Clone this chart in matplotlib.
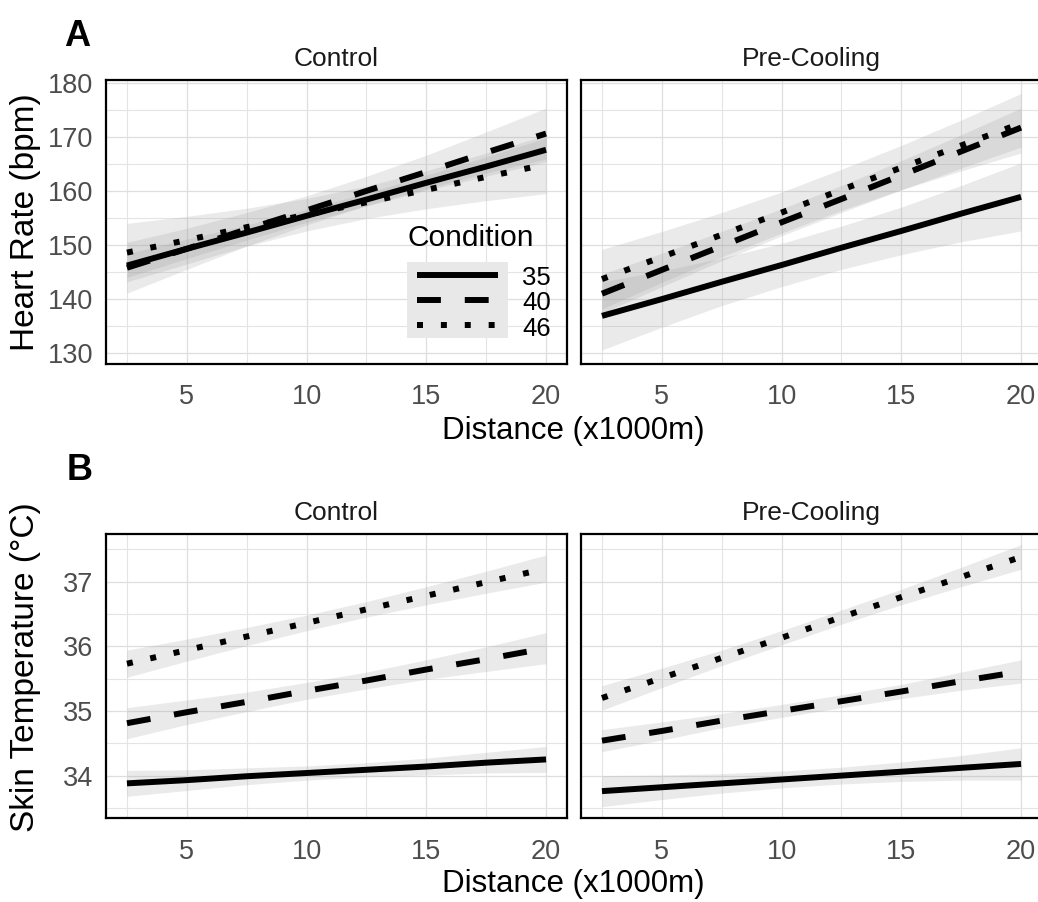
import numpy as np
import matplotlib.pyplot as plt
from matplotlib.lines import Line2D
from matplotlib.patches import Rectangle

plt.rcParams['font.family'] = ['Liberation Sans', 'DejaVu Sans']

# distance points (x1000 m) where the fitted lines and bands are read
distance = [2.5, 5, 7.5, 10, 12.5, 15, 17.5, 20]
conditions = ['35', '40', '46']
groups = ['Control', 'Pre-Cooling']

# heart rate fits (bpm), one row per condition 35 / 40 / 46
hr_control_fit = [
    [146.2, 149.3, 152.3, 155.4, 158.4, 161.5, 164.5, 167.6],
    [145.8, 149.3, 152.9, 156.4, 160.0, 163.5, 167.1, 170.6],
    [148.6, 150.9, 153.3, 155.6, 157.9, 160.2, 162.6, 164.9],
]
hr_control_ci = [
    [2.2, 1.8, 1.4, 1.2, 1.2, 1.4, 1.8, 2.2],
    [4.7, 3.8, 3.1, 2.7, 2.7, 3.1, 3.8, 4.7],
    [5.4, 4.4, 3.5, 3.0, 3.0, 3.5, 4.4, 5.4],
]
hr_precool_fit = [
    [136.9, 140.0, 143.2, 146.3, 149.5, 152.6, 155.8, 158.9],
    [141.0, 145.4, 149.8, 154.2, 158.5, 162.9, 167.3, 171.7],
    [143.7, 147.8, 151.9, 156.0, 160.2, 164.3, 168.4, 172.5],
]
hr_precool_ci = [
    [6.3, 5.2, 4.4, 4.0, 4.0, 4.4, 5.2, 6.3],
    [3.6, 3.1, 2.7, 2.5, 2.5, 2.7, 3.1, 3.6],
    [5.5, 4.7, 4.1, 3.8, 3.8, 4.1, 4.7, 5.5],
]

# skin temperature fits (deg C)
tsk_control_fit = [
    [33.88, 33.93, 33.99, 34.04, 34.09, 34.14, 34.20, 34.25],
    [34.81, 34.98, 35.14, 35.31, 35.47, 35.64, 35.80, 35.97],
    [35.73, 35.94, 36.15, 36.36, 36.57, 36.78, 36.99, 37.20],
]
tsk_control_ci = [
    [0.20, 0.16, 0.13, 0.11, 0.11, 0.13, 0.16, 0.20],
    [0.24, 0.19, 0.15, 0.13, 0.13, 0.15, 0.19, 0.24],
    [0.21, 0.17, 0.14, 0.12, 0.12, 0.14, 0.17, 0.21],
]
tsk_precool_fit = [
    [33.76, 33.82, 33.88, 33.94, 34.00, 34.06, 34.12, 34.18],
    [34.54, 34.69, 34.85, 35.00, 35.15, 35.30, 35.46, 35.61],
    [35.20, 35.51, 35.82, 36.13, 36.45, 36.76, 37.07, 37.38],
]
tsk_precool_ci = [
    [0.24, 0.19, 0.15, 0.13, 0.13, 0.15, 0.19, 0.25],
    [0.17, 0.14, 0.11, 0.10, 0.10, 0.11, 0.14, 0.18],
    [0.19, 0.15, 0.12, 0.11, 0.11, 0.12, 0.15, 0.19],
]

LINESTYLES = {'35': '-', '40': (0, (4, 4)), '46': (0, (1, 3))}
LW = 4.3
BAND = '#999999'
TICK_COL = '#4D4D4D'

W, H = 1038, 902
fig = plt.figure(figsize=(W / 100, H / 100), dpi=100)


def panel(left, top, right, bottom):
    return fig.add_axes([left / W, 1 - bottom / H, (right - left) / W, (bottom - top) / H])


def style_axes(ax, ylim, major_y, minor_y, title, show_y):
    ax.set_xlim(1.625, 20.875)
    ax.set_ylim(*ylim)
    ax.set_xticks([5, 10, 15, 20])
    ax.set_xticks([2.5, 7.5, 12.5, 17.5], minor=True)
    ax.set_yticks(major_y)
    ax.set_yticks(minor_y, minor=True)
    ax.grid(True, which='major', color='#DEDEDE', lw=0.9)
    ax.grid(True, which='minor', color='#E4E4E4', lw=0.8)
    ax.set_axisbelow(True)
    ax.tick_params(which='both', length=0)
    ax.tick_params(axis='x', pad=15, labelsize=19.5, labelcolor=TICK_COL)
    ax.tick_params(axis='y', pad=9, labelsize=19.5, labelcolor=TICK_COL)
    if not show_y:
        ax.tick_params(axis='y', labelleft=False)
    for sp in ax.spines.values():
        sp.set_linewidth(1.6)
        sp.set_color('black')
    ax.set_title(title, fontsize=19, color='#1A1A1A', pad=10)


def draw_fits(ax, fits, cis):
    # band then line for each condition, so later bands shade earlier lines
    for cond, fit, ci in zip(conditions, fits, cis):
        fit = np.array(fit)
        ci = np.array(ci)
        ax.fill_between(distance, fit - ci, fit + ci, color=BAND, alpha=0.2, lw=0)
        ax.plot(distance, fit, color='black', lw=LW, ls=LINESTYLES[cond],
                solid_capstyle='butt', dash_capstyle='butt')


def add_condition_key(ax):
    # grey key block with line samples, labels to the right
    x0, x1 = 0.653, 0.872
    y0, row = 0.090, 0.0892
    ax.add_patch(Rectangle((x0, y0), x1 - x0, 3 * row, transform=ax.transAxes,
                           facecolor='#E8E8E8', edgecolor='none', zorder=5))
    for i, cond in enumerate(conditions):
        yc = y0 + (2.5 - i) * row
        ax.add_line(Line2D([0.675, 0.850], [yc, yc], transform=ax.transAxes,
                           color='black', lw=LW, ls=LINESTYLES[cond],
                           solid_capstyle='butt', dash_capstyle='butt', zorder=6))
        ax.text(0.903, yc - 0.012, cond, transform=ax.transAxes, fontsize=18.5,
                va='center', ha='left', color='black', zorder=6)
    ax.text(0.655, 0.413, 'Condition', transform=ax.transAxes, fontsize=21.5,
            va='baseline', ha='left', color='black', zorder=6)


ax_hr_c = panel(106, 80, 567, 363.5)
ax_hr_p = panel(581, 80, 1042, 363.5)
ax_tsk_c = panel(106, 534.3, 567, 818.3)
ax_tsk_p = panel(581, 534.3, 1042, 818.3)

hr_major = [130, 140, 150, 160, 170, 180]
hr_minor = [135, 145, 155, 165, 175]
tsk_major = [34, 35, 36, 37]
tsk_minor = [33.5, 34.5, 35.5, 36.5, 37.5]

draw_fits(ax_hr_c, hr_control_fit, hr_control_ci)
draw_fits(ax_hr_p, hr_precool_fit, hr_precool_ci)
draw_fits(ax_tsk_c, tsk_control_fit, tsk_control_ci)
draw_fits(ax_tsk_p, tsk_precool_fit, tsk_precool_ci)

style_axes(ax_hr_c, (128.1, 180.5), hr_major, hr_minor, groups[0], True)
style_axes(ax_hr_p, (128.1, 180.5), hr_major, hr_minor, groups[1], False)
style_axes(ax_tsk_c, (33.34, 37.73), tsk_major, tsk_minor, groups[0], True)
style_axes(ax_tsk_p, (33.34, 37.73), tsk_major, tsk_minor, groups[1], False)

add_condition_key(ax_hr_c)

# shared axis titles and panel letters
fig.text(573 / W, 1 - 431 / H, 'Distance (x1000m)', ha='center', va='center', fontsize=22.5)
fig.text(573 / W, 1 - 884 / H, 'Distance (x1000m)', ha='center', va='center', fontsize=22.5)
fig.text(26 / W, 1 - 222 / H, 'Heart Rate (bpm)', ha='center', va='center',
         rotation=90, fontsize=24)
fig.text(26 / W, 1 - 667 / H, 'Skin Temperature (°C)', ha='center', va='center',
         rotation=90, fontsize=24)
fig.text(77 / W, 1 - 36 / H, 'A', ha='center', va='center', fontsize=26, fontweight='bold')
fig.text(80 / W, 1 - 470 / H, 'B', ha='center', va='center', fontsize=26, fontweight='bold')

fig.savefig('out.png', dpi=100)
